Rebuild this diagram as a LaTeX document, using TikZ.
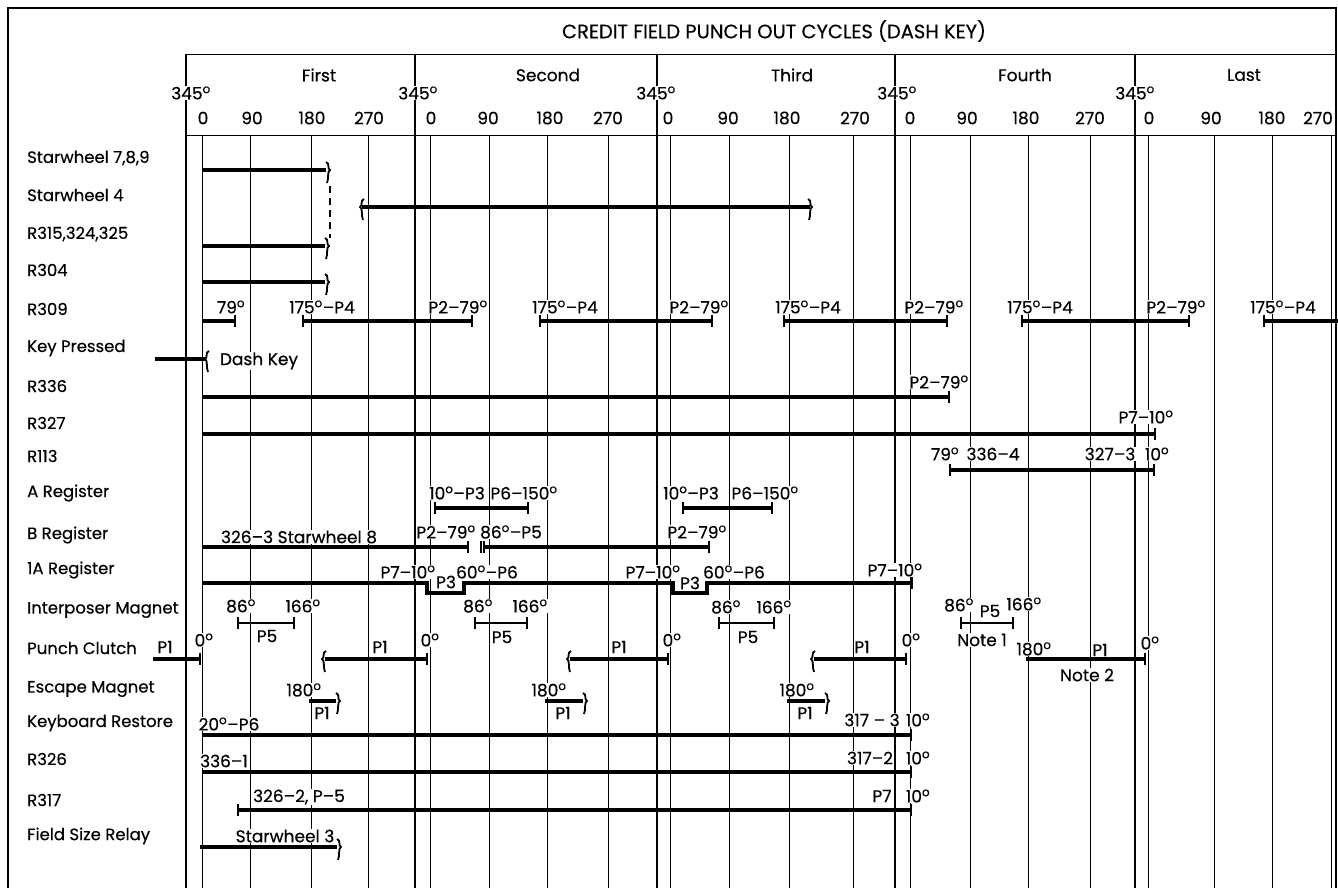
\documentclass[tikz,border=0pt]{standalone}
\usepackage{fontspec}
\setmainfont{Poppins}[FakeBold=0.35]
\newcounter{lbl}
\newcommand\dg{\textsuperscript{o}}
\tikzset{
  frame/.style={line width=1.6pt},
  gridl/.style={line width=0.9pt},
  bndl/.style={line width=1.4pt},
  bar/.style={line width=3.2pt},
  tick/.style={line width=1.6pt},
  curl/.style={line width=1.8pt},
  lab/.style={font=\fontsize{17}{19}\selectfont, inner sep=0.8pt, fill=white},
  rowlab/.style={font=\fontsize{16.5}{19}\selectfont, inner sep=0pt, anchor=west},
}
\newcommand\lab[3]{\stepcounter{lbl}\node[lab] (L\arabic{lbl}) at (#1,#2) {#3};}
\newcommand\rowl[2]{\stepcounter{lbl}\node[rowlab] (L\arabic{lbl}) at (27,#1) {#2};}
\newcommand\tk[2]{\draw[tick] ({#1},{#2-6}) -- ({#1},{#2+6});}
\newcommand\rc[2]{\draw[curl] ({#1},{#2-8}) .. controls ({#1+4},{#2-7}) and ({#1+1},{#2-1}) .. ({#1+4},{#2}) .. controls ({#1+1},{#2+1}) and ({#1+3},{#2+9}) .. ({#1+1},{#2+13});}
\newcommand\lc[2]{\draw[curl] ({#1},{#2-8}) .. controls ({#1-4},{#2-7}) and ({#1-1},{#2-1}) .. ({#1-4},{#2}) .. controls ({#1-1},{#2+1}) and ({#1-3},{#2+9}) .. ({#1-1},{#2+13});}
\begin{document}
\begin{tikzpicture}[x=1pt,y=-1pt]
\useasboundingbox (0,0) rectangle (1338,888);
\fill[white] (0,0) rectangle (1338,888);
% frame
\draw[frame] (8,888) -- (8,8) -- (1336,8) -- (1336,888);
\draw[gridl] (186,54) -- (1336,54);
\draw[gridl] (186,135) -- (1336,135);
% cycle boundaries
\foreach \x in {186,415,657,895,1135} \draw[bndl] (\x,54) -- (\x,888);
% degree lines
\foreach \x in {202,250,311,368, 430,489,547,608, 670,729,789,853, 910,970,1028,1090, 1148,1214,1272,1331}
  \draw[gridl] (\x,135) -- (\x,888);
% header texts
\stepcounter{lbl}\node[lab, font=\fontsize{19.5}{22}\selectfont] (L\arabic{lbl}) at (774,31) {CREDIT FIELD PUNCH OUT CYCLES (DASH KEY)};
\lab{319}{75}{First}
\lab{548}{75}{Second}
\lab{792}{75}{Third}
\lab{1025}{75}{Fourth}
\lab{1244}{75}{Last}
\lab{191}{93}{345\dg}
\lab{418}{93}{345\dg}
\lab{656}{93}{345\dg}
\lab{897}{93}{345\dg}
\lab{1135}{93}{345\dg}
\lab{203}{118}{0}\lab{252}{118}{90}\lab{312}{118}{180}\lab{369}{118}{270}
\lab{431}{118}{0}\lab{488}{118}{90}\lab{550}{118}{180}\lab{608}{118}{270}
\lab{668}{118}{0}\lab{728}{118}{90}\lab{787}{118}{180}\lab{855}{118}{270}
\lab{910}{118}{0}\lab{967}{118}{90}\lab{1026}{118}{180}\lab{1090}{118}{270}
\lab{1149}{118}{0}\lab{1211}{118}{90}\lab{1272}{118}{180}\lab{1318}{118}{270}
% row labels
\rowl{158}{Starwheel 7,8,9}
\rowl{195}{Starwheel 4}
\rowl{234}{R315,324,325}
\rowl{270}{R304}
\rowl{309}{R309}
\rowl{348}{Key Pressed}
\rowl{386}{R336}
\rowl{423}{R327}
\rowl{456}{R113}
\rowl{493}{A Register}
\rowl{535}{B Register}
\rowl{570}{1A Register}
\rowl{610}{Interposer Magnet}
\rowl{648}{Punch Clutch}
\rowl{689}{Escape Magnet}
\rowl{723}{Keyboard Restore}
\rowl{759}{R326}
\rowl{800}{R317}
\rowl{836}{Field Size Relay}
% ---- labels on chart
% R309
\lab{231}{307}{79\dg}
\foreach \c in {322,565,808,1040,1283} {\lab{\c}{307}{175\dg--P4}}
\foreach \c in {458,699,934,1176} {\lab{\c}{307}{P2--79\dg}}
% Key pressed
\lab{259}{361}{Dash Key}
% R336, R327
\lab{939}{382}{P2--79\dg}
\lab{1146}{417}{P7--10\dg}
% R113
\lab{945}{454}{79\dg}\lab{993}{454}{336--4}\lab{1110}{454}{327--3}\lab{1157}{454}{10\dg}
% A register
\lab{457}{493}{10\dg--P3}\lab{524}{493}{P6--150\dg}
\lab{691}{493}{10\dg--P3}\lab{765}{493}{P6--150\dg}
% B register
\lab{299}{537}{326--3 Starwheel 8}
\lab{446}{532}{P2--79\dg}\lab{511}{532}{86\dg--P5}\lab{697}{532}{P2--79\dg}
% 1A register
\lab{408}{572}{P7--10\dg}\lab{487}{572}{60\dg--P6}
\lab{653}{572}{P7--10\dg}\lab{734}{572}{60\dg--P6}
\lab{895}{570}{P7--10\dg}
\lab{446}{582}{P3}\lab{690}{583}{P3}
% Interposer magnet
\lab{241}{606}{86\dg}\lab{303}{606}{166\dg}\lab{267}{636}{P5}
\lab{478}{606}{86\dg}\lab{530}{606}{166\dg}\lab{502}{637}{P5}
\lab{726}{607}{86\dg}\lab{774}{607}{166\dg}\lab{748}{637}{P5}
\lab{959}{605}{86\dg}\lab{990}{611}{P5}\lab{1024}{604}{166\dg}\lab{982}{640}{Note 1}
% Punch clutch
\lab{165}{647}{P1}\lab{204}{640}{0\dg}
\lab{380}{647}{P1}\lab{430}{640}{0\dg}
\lab{619}{647}{P1}\lab{672}{640}{0\dg}
\lab{862}{647}{P1}\lab{911}{640}{0\dg}
\lab{1034}{649}{180\dg}\lab{1100}{650}{P1}\lab{1150}{643}{0\dg}\lab{1087}{675}{Note 2}
% Escape magnet
\lab{304}{690}{180\dg}\lab{322}{713}{P1}
\lab{549}{690}{180\dg}\lab{563}{713}{P1}
\lab{797}{690}{180\dg}\lab{805}{713}{P1}
% Keyboard restore, R326, R317
\lab{229}{724}{20\dg--P6}\lab{872}{720}{317 -- 3}\lab{918}{720}{10\dg}
\lab{224}{761}{336--1}\lab{870}{758}{317--2}\lab{918}{758}{10\dg}
\lab{299}{797}{326--2, P--5}\lab{882}{796}{P7}\lab{918}{796}{10\dg}
\lab{285}{836}{Starwheel 3}
% ---- bars
% Starwheel 7,8,9
\draw[bar] (202,170) -- (326,170); \rc{326}{170}
% Starwheel 4
\draw[bar] (362,207) -- (810,207); \lc{364}{207} \rc{808}{207}
\draw[line width=1.4pt, dash pattern=on 7pt off 5pt] (330,186) -- (330,238);
% R315, R304
\draw[bar] (202,246) -- (325,246); \rc{325}{246}
\draw[bar] (202,282) -- (325,282); \rc{325}{282}
% R309
\draw[bar] (202,321) -- (235,321); \tk{235}{321}
\draw[bar] (303,321) -- (472,321); \tk{303}{321}\tk{472}{321}
\draw[bar] (540,321) -- (712,321); \tk{540}{321}\tk{712}{321}
\draw[bar] (784,321) -- (947,321); \tk{784}{321}\tk{947}{321}
\draw[bar] (1022,321) -- (1189,321); \tk{1022}{321}\tk{1189}{321}
\draw[bar] (1264,321) -- (1338,321); \tk{1264}{321}
% Key pressed
\draw[bar] (155,359) -- (206,359); \lc{209}{359}
% R336, R327
\draw[bar] (202,397) -- (949,397); \tk{949}{397}
\draw[bar] (202,434) -- (1155,434); \tk{1155}{434}
% R113
\draw[bar] (950,470) -- (1154,470); \tk{950}{470}\tk{1154}{470}
% A register
\draw[bar] (435,508) -- (528,508); \tk{435}{508}\tk{528}{508}
\draw[bar] (683,508) -- (772,508); \tk{683}{508}\tk{772}{508}
% B register
\draw[bar] (202,547) -- (468,547); \tk{468}{547}
\tk{481}{547}
\draw[bar] (484,547) -- (709,547); \tk{484}{547}\tk{709}{547}
% 1A register
\draw[bar, line join=miter] (202,583) -- (427,583) -- (427,593) -- (464,593) -- (464,583) -- (673,583) -- (673,593) -- (707,593) -- (707,583) -- (912,583);
\tk{912}{583}
% Interposer magnet
\draw[line width=2.4pt] (238,623) -- (294,623); \tk{238}{623}\tk{294}{623}
\draw[line width=2.4pt] (475,623) -- (527,623); \tk{475}{623}\tk{527}{623}
\draw[line width=2.4pt] (719,623) -- (774,623); \tk{719}{623}\tk{774}{623}
\draw[line width=2.4pt] (961,623) -- (1013,623); \tk{961}{623}\tk{1013}{623}
% Punch clutch
\draw[bar] (153,659) -- (200,659); \tk{200}{659}
\draw[bar] (325,659) -- (427,659); \lc{326}{659}\tk{427}{659}
\draw[bar] (570,659) -- (668,659); \lc{571}{659}\tk{668}{659}
\draw[bar] (814,659) -- (906,659); \lc{815}{659}\tk{906}{659}
\draw[bar] (1026,659) -- (1145,659); \tk{1145}{659}
% Escape magnet
\draw[bar] (309,701) -- (336,701); \rc{336}{701}
\draw[bar] (545,701) -- (583,701); \rc{583}{701}
\draw[bar] (787,701) -- (825,701); \rc{825}{701}
% Keyboard restore, R326, R317
\draw[bar] (202,735) -- (911,735); \tk{911}{735}
\draw[bar] (202,772) -- (911,772); \tk{911}{772}
\draw[bar] (238,810) -- (911,810); \tk{238}{810}\tk{911}{810}
% Field size relay
\draw[bar] (200,847) -- (337,847); \rc{337}{847}
\end{tikzpicture}
\end{document}
